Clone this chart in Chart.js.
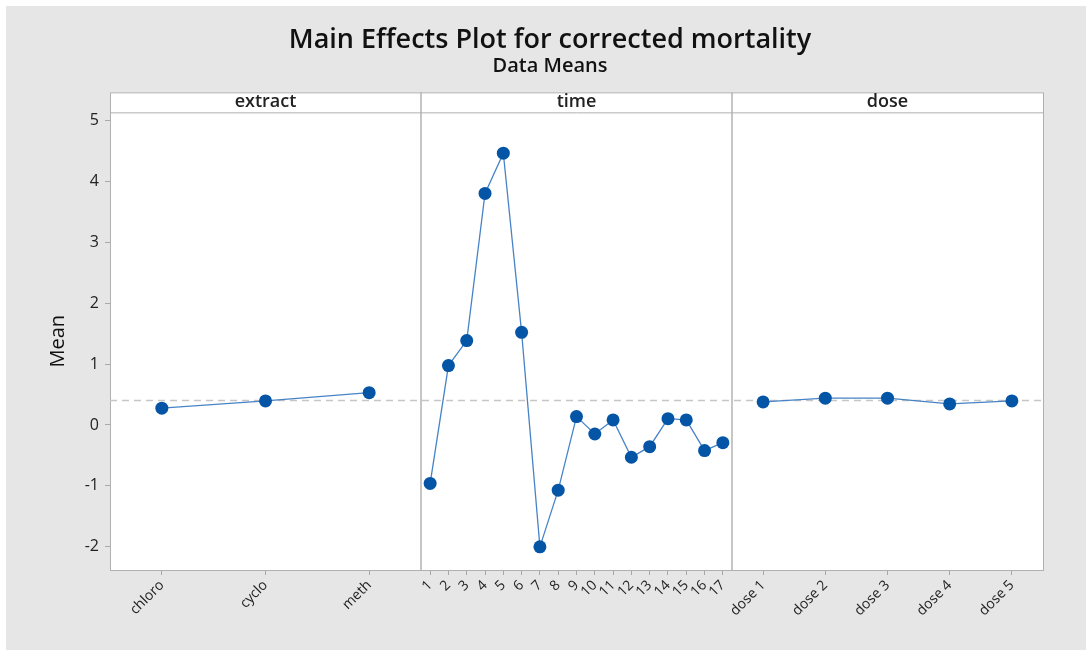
<!DOCTYPE html>
<html>
<head>
<meta charset="utf-8">
<title>Main Effects Plot for corrected mortality</title>
<script src="https://cdn.jsdelivr.net/npm/chart.js@4.4.1/dist/chart.umd.min.js"></script>
<style>
  html, body { margin: 0; padding: 0; background: #ffffff; }
  #wrap { width: 1086px; height: 652px; position: relative; }
</style>
</head>
<body>
<div id="wrap"><canvas id="mainEffects"></canvas></div>
<script>
// ─── Data ───────────────────────────────────────
const panelNames = ["extract", "time", "dose"];

const extractLabels = ["chloro", "cyclo", "meth"];
const extractMeans = [0.275, 0.394, 0.53];

const timeLabels = ["1", "2", "3", "4", "5", "6", "7", "8", "9", "10", "11", "12", "13", "14", "15", "16", "17"];
const timeMeans = [-0.96, 0.975, 1.385, 3.8, 4.46, 1.52, -2.0, -1.07, 0.137, -0.148, 0.082, -0.53, -0.356, 0.104, 0.082, -0.42, -0.29];

const doseLabels = ["dose 1", "dose 2", "dose 3", "dose 4", "dose 5"];
const doseMeans = [0.378, 0.44, 0.44, 0.345, 0.394];

const grandMean = 0.402;
const yTicks = [-2, -1, 0, 1, 2, 3, 4, 5];

// ─── Helpers ────────────────────────────────────
const FONT = "'Open Sans', 'Noto Sans', sans-serif";
const MARKER = "#0555a6";
const LINE = "#4783c6";

const groups = [
	{ labels: extractLabels, means: extractMeans },
	{ labels: timeLabels, means: timeMeans },
	{ labels: doseLabels, means: doseMeans },
];

// each panel covers one unit of the x scale, categories centred in equal slots
const slot = (panel, i, n) => panel + (i + 0.5) / n;

const tickPositions = [];
const tickLabels = [];
groups.forEach((g, p) => {
	g.labels.forEach((lab, i) => {
		tickPositions.push(slot(p, i, g.labels.length));
		tickLabels.push(lab);
	});
});

const datasets = groups.map((g, p) => ({
	label: panelNames[p],
	data: g.means.map((m, i) => ({ x: slot(p, i, g.means.length), y: m })),
	borderColor: LINE,
	borderWidth: 1.3,
	pointBackgroundColor: MARKER,
	pointBorderColor: MARKER,
	pointRadius: 6.5,
	pointBorderWidth: 0,
	tension: 0,
}));

// overall mean reference line (last so it sits under the markers)
datasets.push({
	label: "mean",
	data: [{ x: 0, y: grandMean }, { x: 3, y: grandMean }],
	borderColor: "#c6c6c6",
	borderWidth: 1.5,
	borderDash: [7, 5],
	pointRadius: 0,
});

// ─── Frame / panel strip plugin ─────────────────
const panelFrame = {
	id: "panelFrame",
	beforeDraw(chart) {
		const { ctx, chartArea: a } = chart;
		ctx.save();
		ctx.fillStyle = "#ffffff";
		ctx.fillRect(0, 0, chart.width, chart.height);
		ctx.fillStyle = "#e6e6e6";
		ctx.fillRect(6, 6, chart.width - 6, chart.height - 8);
		ctx.fillStyle = "#ffffff";
		ctx.fillRect(a.left, a.top - 20, a.right - a.left, a.bottom - a.top + 20);
		ctx.restore();
	},
	beforeDatasetsDraw(chart) {
		const { ctx, chartArea: a, scales } = chart;
		const stripTop = a.top - 20;
		ctx.save();
		// dividers between panels
		ctx.strokeStyle = "#c6c6c6";
		ctx.lineWidth = 2;
		[1, 2].forEach((v) => {
			const x = Math.round(scales.x.getPixelForValue(v));
			ctx.beginPath();
			ctx.moveTo(x, stripTop);
			ctx.lineTo(x, a.bottom);
			ctx.stroke();
		});
		// strip + plot borders
		ctx.strokeStyle = "#b0b0b0";
		ctx.lineWidth = 1;
		ctx.strokeRect(a.left + 0.5, stripTop + 0.5, a.right - a.left, a.bottom - stripTop);
		ctx.beginPath();
		ctx.moveTo(a.left, a.top + 0.5);
		ctx.lineTo(a.right, a.top + 0.5);
		ctx.stroke();
		// panel names
		ctx.fillStyle = "#222222";
		ctx.font = `600 18px ${FONT}`;
		ctx.textAlign = "center";
		ctx.textBaseline = "middle";
		panelNames.forEach((name, p) => {
			const x = (scales.x.getPixelForValue(p) + scales.x.getPixelForValue(p + 1)) / 2;
			ctx.fillText(name, x, stripTop + 10);
		});
		ctx.restore();
	},
};

// ─── Chart ──────────────────────────────────────
const ctx = document.getElementById("mainEffects").getContext("2d");
new Chart(ctx, {
	type: "line",
	data: { datasets },
	plugins: [panelFrame],
	options: {
		responsive: true,
		maintainAspectRatio: false,
		animation: false,
		layout: { padding: { top: 0, right: 0, bottom: 0, left: 14 } },
		plugins: {
			legend: { display: false },
			tooltip: { enabled: false },
			title: {
				display: true,
				text: "Main Effects Plot for corrected mortality",
				color: "#111111",
				font: { family: FONT, size: 27, weight: "600", lineHeight: 1.05 },
				padding: { top: 26, bottom: 0 },
			},
			subtitle: {
				display: true,
				text: "Data Means",
				color: "#111111",
				font: { family: FONT, size: 20, weight: "600", lineHeight: 1.2 },
				padding: { top: 0, bottom: 34 },
			},
		},
		scales: {
			x: {
				type: "linear",
				min: 0,
				max: 3,
				afterBuildTicks: (scale) => {
					scale.ticks = tickPositions.map((v) => ({ value: v }));
				},
				afterFit: (scale) => {
					scale.height = 82;
				},
				ticks: {
					autoSkip: false,
					minRotation: 45,
					maxRotation: 45,
					padding: 2,
					color: "#222222",
					font: { family: FONT, size: 14 },
					callback: (v, i) => tickLabels[i],
				},
				grid: { drawOnChartArea: false, drawTicks: true, tickLength: 5, color: "#a8a8a8" },
				border: { display: true, color: "#b0b0b0" },
			},
			y: {
				min: -2.38,
				max: 5.13,
				afterBuildTicks: (scale) => {
					scale.ticks = yTicks.map((v) => ({ value: v }));
				},
				afterFit: (scale) => {
					scale.width = 96;
				},
				ticks: {
					padding: 6,
					color: "#222222",
					font: { family: FONT, size: 16 },
				},
				grid: { drawOnChartArea: false, drawTicks: true, tickLength: 5, color: "#a8a8a8" },
				border: { display: true, color: "#b0b0b0" },
				title: {
					display: true,
					text: "Mean",
					color: "#111111",
					font: { family: FONT, size: 20 },
					padding: { top: 32, bottom: 0 },
				},
			},
			// empty right gutter so the title centres like the reference
			yRight: {
				position: "right",
				display: true,
				ticks: { display: false },
				grid: { display: false },
				border: { display: false },
				afterFit: (scale) => {
					scale.width = 43;
				},
			},
		},
	},
});
</script>
</body>
</html>
